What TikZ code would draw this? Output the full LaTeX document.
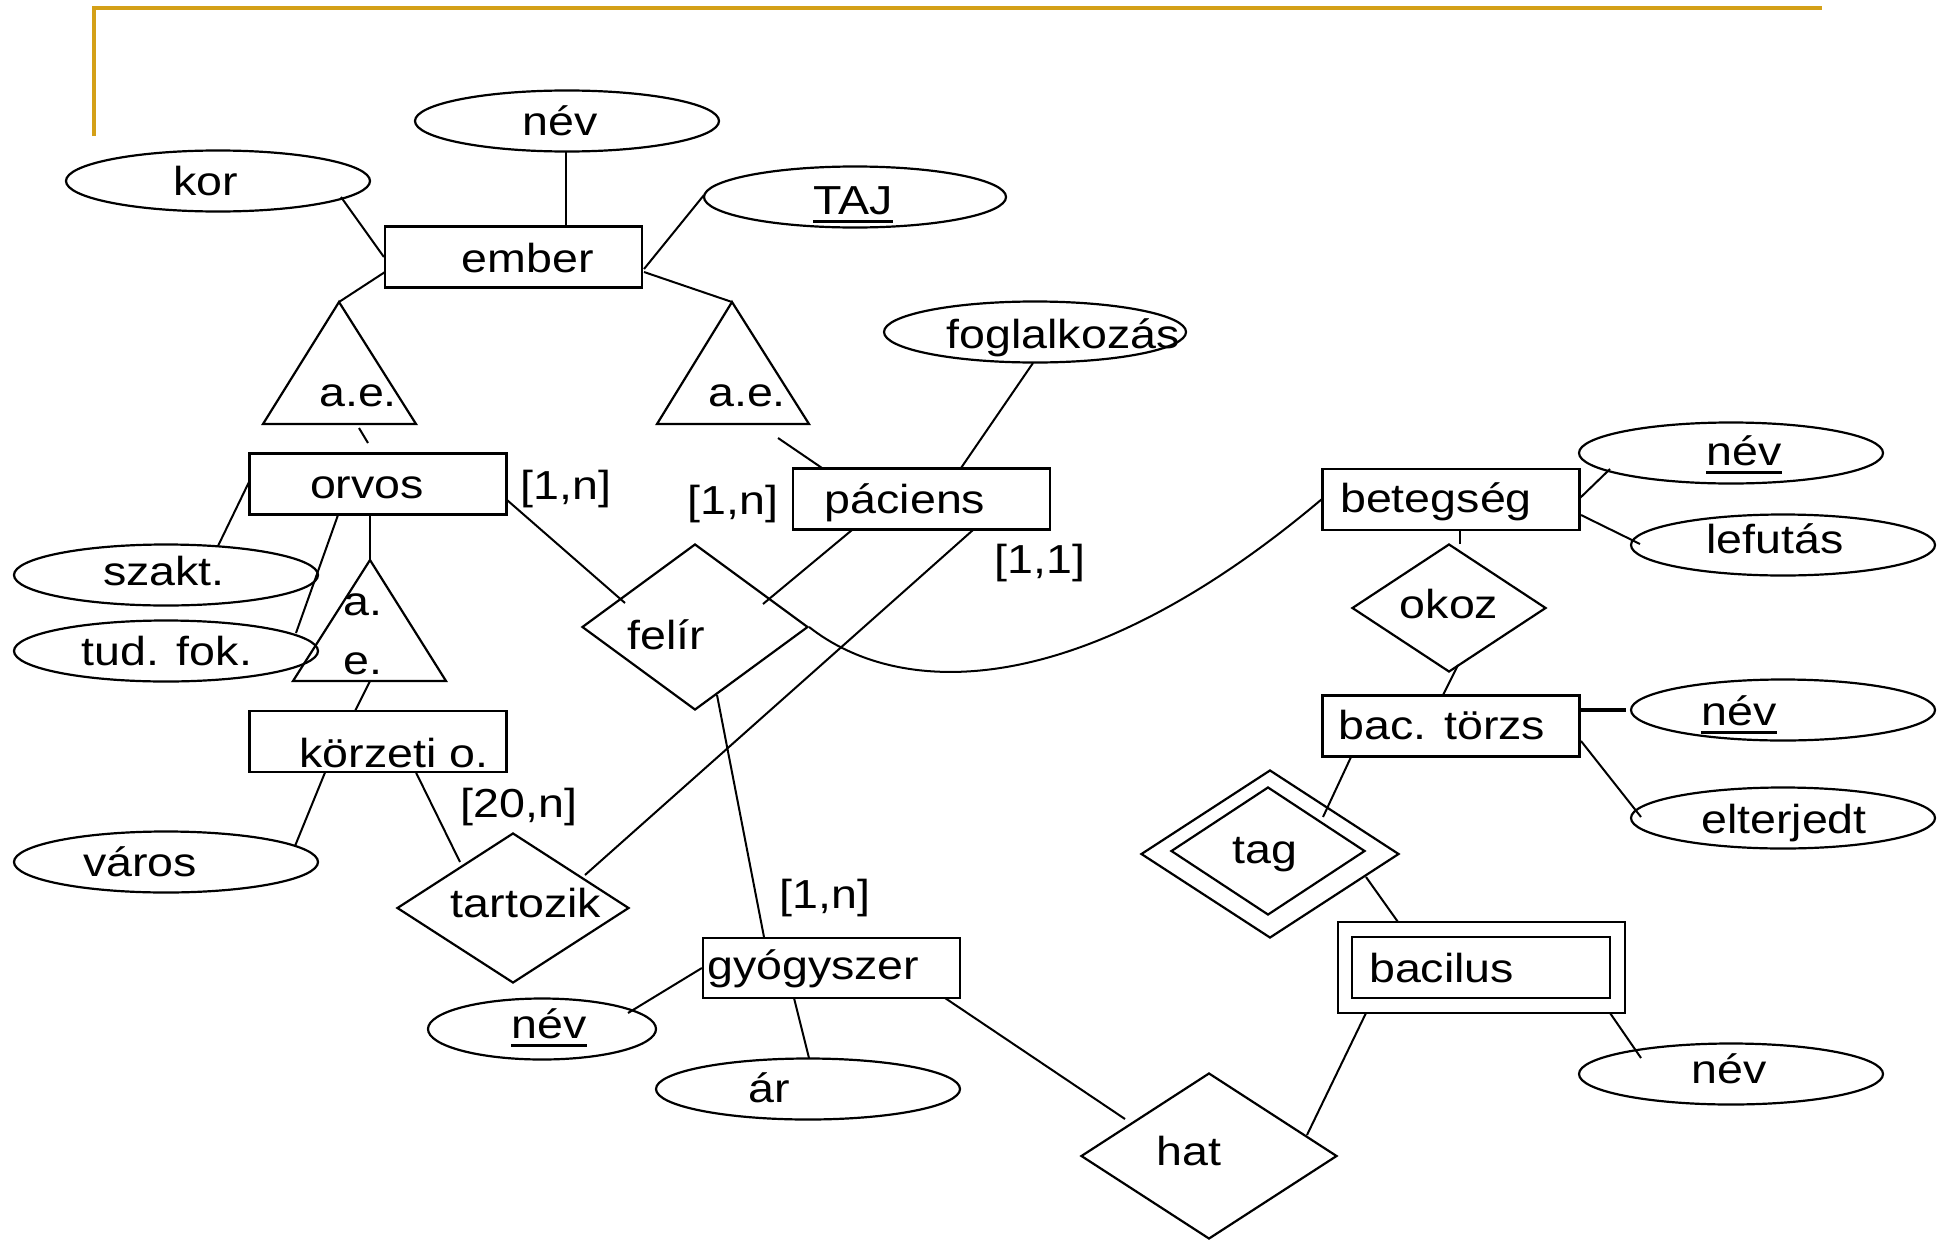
\documentclass[tikz,border=0pt]{standalone}
\usepackage{fontspec}
\setmainfont{Liberation Sans}[FakeStretch=1.15]
\usetikzlibrary{shapes.geometric,calc}
\definecolor{framegold}{RGB}{212,160,23}
\newcommand\erf{\fontsize{40.5pt}{48pt}\selectfont}
\newcommand\myul[1]{\setbox0=\hbox{#1}\makebox[0pt][l]{\rule[-9pt]{\wd0}{3.5pt}}\box0}
\begin{document}
\begin{tikzpicture}[x=1pt,y=-1pt, line width=2.2pt,
  attr/.style={draw, ellipse, inner sep=0pt, minimum width=304pt, minimum height=61pt},
  ent/.style={draw, rectangle, inner sep=0pt, minimum width=257pt, minimum height=61pt},
  rel/.style={draw, diamond, inner sep=0pt},
  txt/.style={anchor=base, inner sep=0pt, font=\erf},
  conn/.style={line width=2pt}]
\useasboundingbox (0,0) rectangle (1957,1242);
\fill[white] (0,0) rectangle (1957,1242);
% frame
\draw[framegold, line width=3.5pt] (94,136) -- (94,8) -- (1822,8);
% attributes
\node[attr] (nev1) at (567,121) {};
\node[attr] (kor) at (218,181) {};
\node[attr, minimum width=302pt] (taj) at (855,197) {};
\node[attr, minimum width=302pt] (fogl) at (1035,332) {};
\node[attr] (szakt) at (166,575) {};
\node[attr] (tudfok) at (166,651) {};
\node[attr] (varos) at (166,862) {};
\node[attr] (nev2) at (1731,453) {};
\node[attr] (lefutas) at (1783,545) {};
\node[attr] (nev3) at (1783,710) {};
\node[attr] (elterjedt) at (1783,818) {};
\node[attr, minimum width=228pt] (nev4) at (542,1029) {};
\node[attr] (ar) at (808,1089) {};
\node[attr] (nev5) at (1731,1074) {};
% entities
\node[ent] (ember) at (513.5,257) {};
\node[ent] (orvos) at (378,484) {};
\node[ent] (korzeti) at (378,741.5) {};
\node[ent] (paciens) at (921.5,499) {};
\node[ent] (betegseg) at (1451,499.5) {};
\node[ent] (bactorzs) at (1451,726) {};
\node[ent, minimum height=60pt] (gyogyszer) at (831.5,968) {};
\node[ent, minimum width=287pt, minimum height=91pt] (bacout) at (1481.5,967.5) {};
\node[ent, minimum width=258pt] (bacin) at (1481,967.5) {};
% relationships
\node[rel, minimum width=226pt, minimum height=166pt] (felir) at (695,627) {};
\node[rel, minimum width=232pt, minimum height=150pt] (tartozik) at (513,908) {};
\node[rel, minimum width=194pt, minimum height=128pt] (okoz) at (1449,608) {};
\node[rel, minimum width=258pt, minimum height=168pt] (tag) at (1270,854) {};
\node[rel, minimum width=194pt, minimum height=128pt] (tagin) at (1268,851) {};
\node[rel, minimum width=256pt, minimum height=166pt] (hat) at (1209,1156) {};
% isa triangles
\coordinate (tri1) at (339,302);
\coordinate (tri2) at (732,302);
\coordinate (tri3) at (370,560);
\draw (tri1) -- ++(-76,122) -- ++(153,0) -- cycle;
\draw (tri2) -- ++(-75,122) -- ++(152,0) -- cycle;
\draw (tri3) -- ++(-77,121) -- ++(153,0) -- cycle;
% texts
\node[txt] (t-nev1) at (560,135) {név};
\node[txt] (t-kor) at (206,195) {kor};
\node[txt] (t-taj) at (853,214) {\myul{TAJ}};
\node[txt] (t-ember) at (528,272) {ember};
\node[txt] (t-ae1) at (358,406) {a.e.};
\node[txt] (t-ae2) at (747,406) {a.e.};
\node[txt] (t-fogl) at (1063,348) {foglalkozás};
\node[txt] (t-orvos) at (367,498) {orvos};
\node[txt] (t-c1) at (566,499) {[1,n]};
\node[txt] (t-c2) at (733,514) {[1,n]};
\node[txt] (t-c3) at (1040,573) {[1,1]};
\node[txt] (t-c4) at (519,817) {[20,n]};
\node[txt] (t-c5) at (825,908) {[1,n]};
\node[txt] (t-paciens) at (905,513) {páciens};
\node[txt] (t-betegseg) at (1436,512) {betegség};
\node[txt] (t-szakt) at (164,585) {szakt.};
\node[txt] (t-tudfok) at (167,665) {tud. fok.};
\node[txt] (t-a) at (363,615) {a.};
\node[txt] (t-e) at (363,674) {e.};
\node[txt] (t-korzeti) at (394,767) {körzeti o.};
\node[txt] (t-varos) at (140,876) {város};
\node[txt] (t-felir) at (666,649) {felír};
\node[txt] (t-tartozik) at (526,917) {tartozik};
\node[txt] (t-okoz) at (1449,618) {okoz};
\node[txt] (t-nev2) at (1744,465) {\myul{név}};
\node[txt] (t-lefutas) at (1775,553) {lefutás};
\node[txt] (t-bactorzs) at (1442,739) {bac. törzs};
\node[txt] (t-nev3) at (1739,725) {\myul{név}};
\node[txt] (t-elterjedt) at (1784,833) {elterjedt};
\node[txt] (t-tag) at (1265,863) {tag};
\node[txt, anchor=base west] (t-gyogyszer) at (706,979) {gyógyszer};
\node[txt] (t-nev4) at (549,1038) {\myul{név}};
\node[txt] (t-ar) at (769,1102) {ár};
\node[txt] (t-hat) at (1189,1165) {hat};
\node[txt, anchor=base west] (t-bacilus) at (1368,982) {bacilus};
\node[txt] (t-nev5) at (1729,1083) {név};
% connectors
\begin{scope}[conn]
\draw ($(nev1)+(-1,31)$) -- ($(ember)+(52.5,-30)$);
\draw ($(kor)+(123,16)$) -- (ember.west);
\draw ($(taj)+(-151,-2)$) -- ($(ember)+(130.5,12)$);
\draw ($(ember)+(-128.5,15)$) -- (tri1);
\draw ($(ember)+(130.5,15)$) -- (tri2);
\draw ($(tri1)+(20,126)$) -- ($(orvos)+(-10,-41)$);
\draw ($(tri2)+(46,136)$) -- ($(paciens)+(-99.5,-31)$);
\draw ($(fogl)+(-2,31)$) -- ($(paciens)+(39.5,-31)$);
\draw ($(orvos)+(-129,-2)$) -- ($(szakt)+(52,-29)$);
\draw ($(orvos)+(-40,31)$) -- ($(tudfok)+(130,-18)$);
\draw ($(orvos)+(-8,31)$) -- (tri3);
\draw ($(tri3)+(0,121)$) -- ($(korzeti)+(-23,-30.5)$);
\draw ($(korzeti)+(-53,31)$) -- ($(varos)+(129,-16)$);
\draw ($(korzeti)+(38,31)$) -- ($(tartozik)+(-53,-46)$);
\draw ($(orvos)+(129,16)$) -- ($(felir)+(-70,-24)$);
\draw ($(paciens)+(-69.5,31)$) -- ($(felir)+(68,-23)$);
\draw ($(paciens)+(51.5,31)$) -- ($(tartozik)+(72,-33)$);
\draw (felir.east) .. controls +(90,71) and +(-243,205) .. (betegseg.west);
\draw ($(felir)+(22,68)$) -- ($(gyogyszer)+(-67.5,-31)$);
\draw (gyogyszer.west) -- ($(nev4)+(86,-16)$);
\draw ($(gyogyszer)+(-37.5,30)$) -- ($(ar)+(1,-31)$);
\draw ($(gyogyszer)+(113.5,30)$) -- ($(hat)+(-84,-37)$);
\draw ($(hat)+(98,-21)$) -- ($(bacout)+(-115.5,45.5)$);
\draw ($(bacout)+(128.5,45.5)$) -- ($(nev5)+(-90,-16)$);
\draw ($(tag)+(96,23)$) -- ($(bacout)+(-83.5,-45.5)$);
\draw ($(tag)+(53,-37)$) -- ($(bactorzs)+(-100,31)$);
\draw ($(bactorzs)+(-8,-31)$) -- ($(okoz)+(9,57)$);
\draw ($(okoz)+(11,-64)$) -- ($(betegseg)+(9,30.5)$);
\draw ($(betegseg)+(129,-1.5)$) -- ($(nev2)+(-121,16)$);
\draw ($(betegseg)+(130,15.5)$) -- ($(lefutas)+(-143,-1)$);
\draw[line width=3.5pt] ($(bactorzs)+(129,-16)$) -- ($(nev3)+(-157,0)$);
\draw ($(bactorzs)+(130,15)$) -- ($(elterjedt)+(-142,-1)$);
\end{scope}
\end{tikzpicture}
\end{document}
